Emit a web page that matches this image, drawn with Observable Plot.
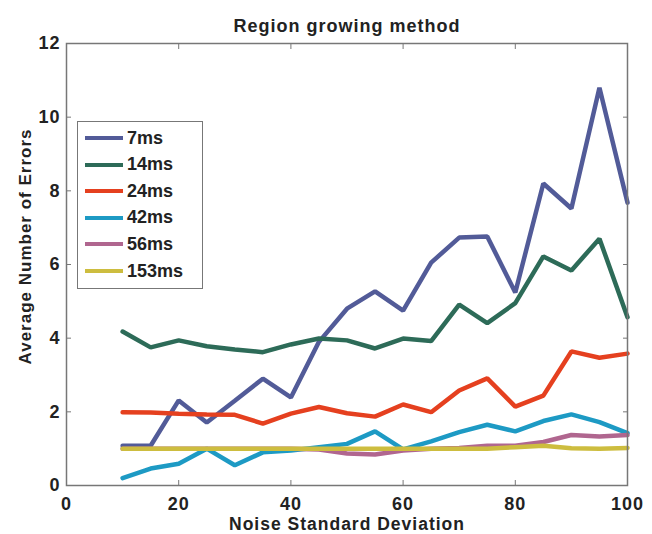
<!DOCTYPE html>
<html>
<head>
<meta charset="utf-8">
<script src="https://cdn.jsdelivr.net/npm/d3@7"></script>
<script src="https://cdn.jsdelivr.net/npm/@observablehq/plot@0.6"></script>
<style>
  body { margin: 0; background: #fff; }
  #wrap { position: relative; width: 652px; height: 534px; font-family: "Liberation Sans", Arial, sans-serif; }
  #legend { position: absolute; left: 77px; top: 121px; width: 126px; height: 168px; border: 1.5px solid #777; background: #fff; box-sizing: border-box; }
  .item { position: absolute; left: 7px; height: 20px; display: flex; align-items: center; font-weight: bold; font-size: 18px; color: #222; letter-spacing: 0px; }
  .item span.sw { display: inline-block; width: 38px; height: 4px; margin-right: 4px; }
</style>
</head>
<body>
<div id="wrap"><div id="chart"></div><div id="legend"></div></div>
<script>
const xValues = [10,15,20,25,30,35,40,45,50,55,60,65,70,75,80,85,90,95,100];
const seriesNames = ["7ms","14ms","24ms","42ms","56ms","153ms"];
const colors = ["#525b98","#2d6b58","#e5401f","#1d9ac4","#b0668f","#cdbd3f"];
const s7   = [1.08,1.08,2.31,1.71,2.3,2.9,2.39,3.9,4.8,5.27,4.75,6.05,6.73,6.76,5.24,8.2,7.52,10.8,7.68];
const s14  = [4.18,3.75,3.94,3.78,3.69,3.62,3.83,3.99,3.94,3.72,3.99,3.92,4.91,4.41,4.95,6.22,5.84,6.7,4.57];
const s24  = [1.99,1.98,1.95,1.93,1.92,1.68,1.95,2.13,1.96,1.87,2.2,1.99,2.58,2.91,2.14,2.44,3.64,3.47,3.58];
const s42  = [0.2,0.46,0.59,1.0,0.55,0.9,0.95,1.04,1.13,1.47,0.98,1.2,1.45,1.65,1.47,1.75,1.93,1.72,1.42];
const s56  = [1.0,1.0,1.0,1.0,1.0,1.0,1.0,0.98,0.87,0.84,0.95,1.0,1.02,1.08,1.08,1.18,1.37,1.33,1.37];
const s153 = [1.0,1.0,1.0,1.0,1.0,1.0,1.0,1.0,1.0,1.0,1.0,1.0,1.0,1.0,1.04,1.08,1.01,1.0,1.02];
const xTicks = [0,20,40,60,80,100];
const yTicks = [0,2,4,6,8,10,12];
const title = "Region growing method";
const xLabel = "Noise Standard Deviation";
const yLabel = "Average Number of Errors";

const allSeries = [s7,s14,s24,s42,s56,s153];
const rows = [];
allSeries.forEach((arr, si) => arr.forEach((v, i) => rows.push({series: seriesNames[si], x: xValues[i], y: v})));

const chart = Plot.plot({
  width: 652, height: 534,
  marginLeft: 66, marginRight: 25, marginTop: 43, marginBottom: 49,
  style: {fontFamily: "'Liberation Sans', Arial, sans-serif", fontWeight: "bold", fontSize: "18px", color: "#222", background: "#fff", letterSpacing: "1px"},
  x: {domain: [0,100]},
  y: {domain: [0,12]},
  color: {domain: seriesNames, range: colors},
  marks: [
    Plot.axisX(xTicks, {anchor: "bottom", tickSize: -5, tickPadding: 17, stroke: "#777", fontSize: 18, fontWeight: "bold", label: null}),
    Plot.axisX(xTicks, {anchor: "top", tickSize: -5, tickFormat: () => "", stroke: "#777", label: null}),
    Plot.axisY(yTicks, {anchor: "left", tickSize: -5, tickPadding: 11, stroke: "#777", fontSize: 18, fontWeight: "bold", label: null}),
    Plot.axisY(yTicks, {anchor: "right", tickSize: -5, tickFormat: () => "", stroke: "#777", label: null}),
    Plot.line(rows, {x: "x", y: "y", z: "series", stroke: "series", strokeWidth: 4.5, strokeLinejoin: "miter"}),
    Plot.frame({stroke: "#777", strokeWidth: 1.5}),
    Plot.text([title], {frameAnchor: "top", dy: -24, fontSize: 18, fontWeight: "bold", fill: "#222"}),
    Plot.text([xLabel], {frameAnchor: "bottom", lineAnchor: "middle", dy: 39, fontSize: 17.5, fontWeight: "bold", fill: "#222"}),
    Plot.text([yLabel], {frameAnchor: "left", textAnchor: "middle", lineAnchor: "middle", rotate: -90, dx: -41, dy: -18, fontSize: 17, fontWeight: "bold", fill: "#222"})
  ]
});
document.getElementById("chart").appendChild(chart);

const legend = document.getElementById("legend");
seriesNames.forEach((name, i) => {
  const d = document.createElement("div");
  d.className = "item";
  d.style.top = (6 + i * 26.6) + "px";
  d.innerHTML = `<span class="sw" style="background:${colors[i]}"></span>${name}`;
  legend.appendChild(d);
});
</script>
</body>
</html>
